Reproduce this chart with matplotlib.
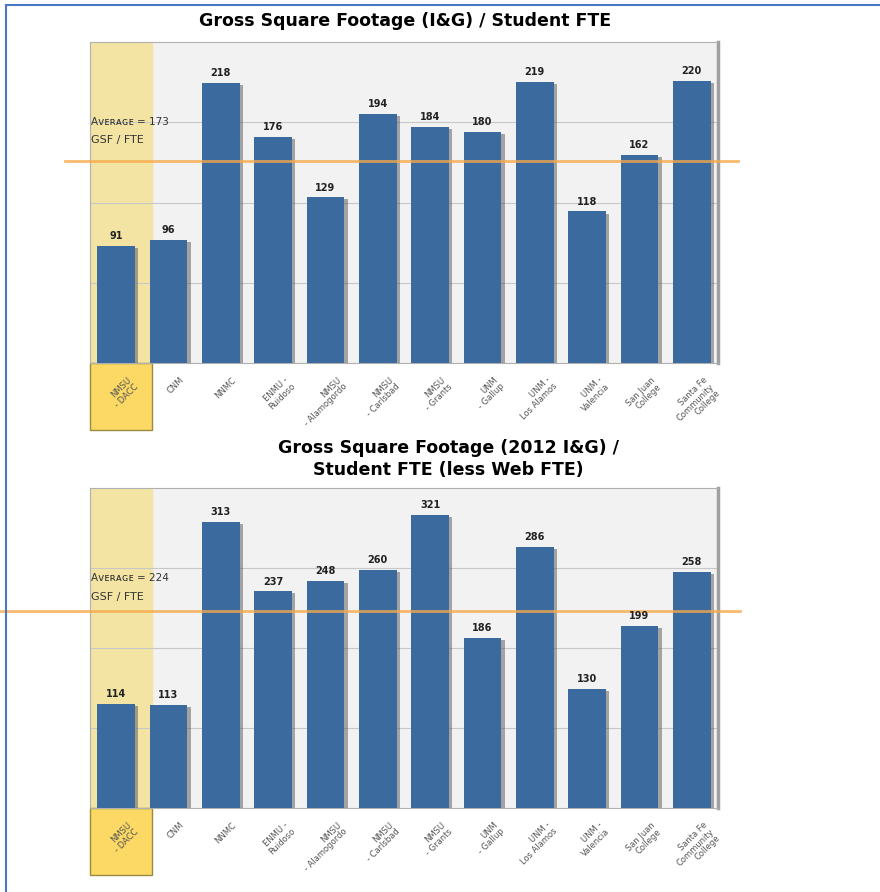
import numpy as np
import matplotlib.pyplot as plt
import matplotlib.patheffects as pe
import matplotlib.transforms as mtransforms
from matplotlib.patches import Rectangle
from matplotlib.lines import Line2D

# data
schools = ['NMSU\n- DACC', 'CNM', 'NNMC', 'ENMU -\nRuidoso', 'NMSU\n- Alamogordo',
           'NMSU\n- Carlsbad', 'NMSU\n- Grants', 'UNM\n- Gallup', 'UNM -\nLos Alamos',
           'UNM -\nValencia', 'San Juan\nCollege', 'Santa Fe\nCommunity\nCollege']
gsf_fte = [91, 96, 218, 176, 129, 194, 184, 180, 219, 118, 162, 220]
gsf_fte_noweb = [114, 113, 313, 237, 248, 260, 321, 186, 286, 130, 199, 258]
avg_top = 173
avg_bottom = 224
# where the orange average lines are drawn in the picture
avg_line_top = 157
avg_line_bottom = 215

BAR = '#3b6a9e'
BG = '#f2f2f2'
PALE = '#f3e4a4'
GOLD = '#fbd964'
ORANGE = '#f7a94a'

fig = plt.figure(figsize=(8.8, 8.92), dpi=100)

# blue frame on left and top
fig.add_artist(Line2D([6/880, 6/880], [0, 1-5/892], color='#4a76c8', lw=1.5))
fig.add_artist(Line2D([6/880, 1], [1-5/892, 1-5/892], color='#4a76c8', lw=1.5))


def draw_panel(rect, values, ymax, avg, avg_line, line_span, text_y, title, title_xy):
    ax = fig.add_axes(rect)
    ax.set_facecolor(BG)
    x = np.arange(len(values))
    ax.axvspan(-0.5, 0.68, color=PALE, zorder=0)
    for g in np.arange(1, 4) * ymax / 4:
        ax.axhline(g, color='#c8c8c8', lw=0.8, zorder=1)
    bars = ax.bar(x, values, width=0.72, color=BAR, zorder=3)
    for b in bars:
        b.set_path_effects([pe.SimplePatchShadow(offset=(2.5, -1.5), shadow_rgbFace='#555555', alpha=0.5),
                            pe.Normal()])
    for xi, v in zip(x, values):
        ax.text(xi, v + ymax * 0.015, str(v), ha='center', va='bottom',
                fontsize=7, fontweight='bold', color='#222222', zorder=5)
    ax.axhline(avg_line, xmin=line_span[0], xmax=line_span[1], color=ORANGE,
               lw=2, alpha=0.8, clip_on=False, zorder=4)
    ax.text(-0.48, text_y[0], 'A\u1d20\u1d07\u0280\u1d00\u0262\u1d07 = %d' % avg,
            fontsize=7.5, color='#333333', ha='left', va='center', zorder=5)
    ax.text(-0.48, text_y[1], 'GSF / FTE', fontsize=8,
            color='#333333', ha='left', va='center', zorder=5)
    ax.set_xlim(-0.5, 11.5)
    ax.set_ylim(0, ymax)
    ax.set_yticks([])
    ax.set_xticks(x)
    ax.set_xticklabels(schools, rotation=45, ha='right', rotation_mode='anchor',
                       fontsize=6, color='#555555', linespacing=1.0)
    ax.tick_params(axis='x', length=0, pad=9)
    shift = mtransforms.ScaledTranslation(11/100, 0, fig.dpi_scale_trans)
    for lbl in ax.get_xticklabels():
        lbl.set_transform(lbl.get_transform() + shift)
    for s in ['top', 'left', 'bottom']:
        ax.spines[s].set_color('#b0b0b0')
    ax.spines['right'].set_color('#a0a0a0')
    ax.spines['right'].set_linewidth(2.5)
    # gold box under the highlighted label
    ax.add_patch(Rectangle((0, -0.21), 0.099, 0.21, transform=ax.transAxes,
                           facecolor=GOLD, edgecolor='#9a8a40', lw=1,
                           clip_on=False, zorder=0))
    fig.text(title_xy[0], title_xy[1], title, ha='center', va='center',
             fontsize=12.5, fontweight='bold', linespacing=1.3)
    return ax


draw_panel([90/880, 1-363/892, 628/880, 321/892], gsf_fte, 250, avg_top,
           avg_line_top, (-0.04, 1.032), (188, 174),
           'Gross Square Footage (I&G) / Student FTE', (405/880, 1-21/892))
draw_panel([90/880, 1-808/892, 628/880, 320/892], gsf_fte_noweb, 350, avg_bottom,
           avg_line_bottom, (-0.143, 1.035), (252, 231),
           'Gross Square Footage (2012 I&G) /\nStudent FTE (less Web FTE)', (448/880, 1-459/892))

fig.savefig('out.png', dpi=100)
